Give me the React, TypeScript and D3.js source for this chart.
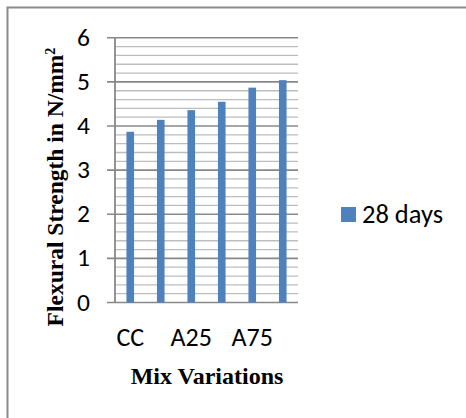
import React from "react";
import * as d3 from "d3";

const categories = ["CC", "A12.5", "A25", "A50", "A75", "A100"];
const shownLabels = ["CC", "A25", "A75"];
const values28 = [3.87, 4.14, 4.36, 4.55, 4.87, 5.04];
const yTicks = [0, 1, 2, 3, 4, 5, 6];
const seriesName = "28 days";

export default function App() {
  const W = 466, H = 418;
  const left = 115, right = 298, top = 37.8, bottom = 302.5;
  const x = d3.scaleBand<string>().domain(categories).range([left, right]).paddingInner(0).paddingOuter(0);
  const y = d3.scaleLinear().domain([0, 6]).range([bottom, top]);
  const minor = d3.range(0, 6.0001, 0.2).filter((v) => Math.abs(v - Math.round(v)) > 1e-6);
  const barW = 7.6;
  const calibri = "Carlito, Calibri, 'Open Sans', sans-serif";
  const times = "'Liberation Serif', 'Times New Roman', serif";
  return (
    <svg width={W} height={H} style={{ position: "absolute", left: 0, top: 0 }}>
      <defs>
        <radialGradient id="cy" cx="0.6" cy="0" r="0.6">
          <stop offset="0" stopColor="#c9f3fb" />
          <stop offset="1" stopColor="#ffffff" stopOpacity="0" />
        </radialGradient>
      </defs>
      <rect x={0} y={0} width={W} height={H} fill="#fff" />
      <rect x={260} y={-30} width={220} height={40} fill="url(#cy)" />
      {/* frame */}
      <path d={`M7.5,${H} L7.5,7.5 L${W},7.5`} fill="none" stroke="#8a8a8a" strokeWidth={2} />
      {/* minor grid */}
      {minor.map((v) => (
        <line key={"m" + v} x1={left} x2={right} y1={y(v)} y2={y(v)} stroke="#bdbdbd" strokeWidth={1.3} />
      ))}
      {/* major grid */}
      {yTicks.map((v) => (
        <line key={"M" + v} x1={left - 8} x2={right} y1={y(v)} y2={y(v)} stroke="#888" strokeWidth={1.6} />
      ))}
      <line x1={left} x2={left} y1={top} y2={bottom} stroke="#888" strokeWidth={1.8} />
      {/* bars */}
      {categories.map((c, i) => (
        <rect
          key={c}
          x={x(c)! + x.bandwidth() / 2 - barW / 2}
          y={y(values28[i])}
          width={barW}
          height={y(0) - y(values28[i])}
          fill="#4f81bd"
        />
      ))}
      {/* y tick labels */}
      {yTicks.map((v) => (
        <text key={"t" + v} x={90} y={y(v) + 8} textAnchor="end" fontFamily={calibri} fontSize={25.5} fill="#000">
          {v}
        </text>
      ))}
      {/* x labels */}
      {categories.map((c) =>
        shownLabels.includes(c) ? (
          <text key={"x" + c} x={x(c)! + x.bandwidth() / 2} y={346} textAnchor="middle" fontFamily={calibri} fontSize={26} fill="#000">
            {c}
          </text>
        ) : null
      )}
      {/* axis titles */}
      <text x={207} y={383.5} textAnchor="middle" fontFamily={times} fontWeight="bold" fontSize={24} fill="#000">
        Mix Variations
      </text>
      <text
        transform={`translate(63,187) rotate(-90)`}
        textAnchor="middle"
        fontFamily={times}
        fontWeight="bold"
        fontSize={23.5}
        fill="#000"
      >
        Flexural Strength in N/mm<tspan dy={-8} fontSize={14}>2</tspan>
      </text>
      {/* legend */}
      <rect x={341} y={207} width={15} height={15} fill="#4f81bd" />
      <text x={362} y={222.5} fontFamily={calibri} fontSize={26.5} fill="#000">
        {seriesName}
      </text>
    </svg>
  );
}
